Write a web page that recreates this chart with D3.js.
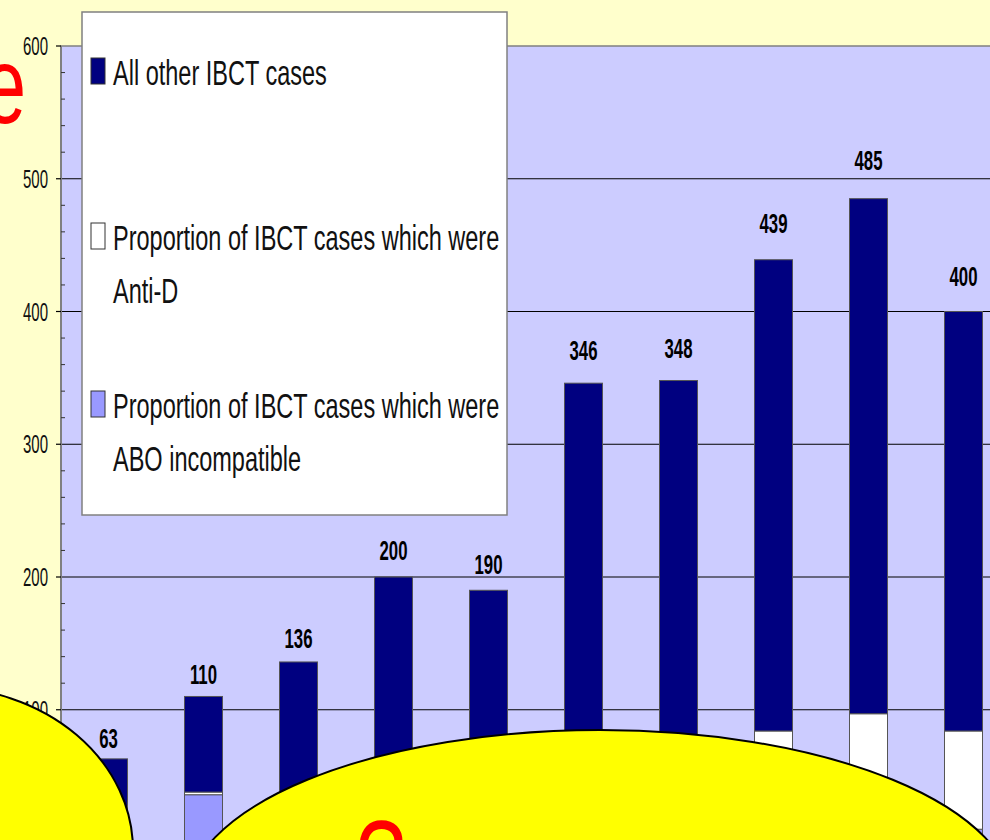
<!DOCTYPE html>
<html>
<head>
<meta charset="utf-8">
<script src="https://cdn.jsdelivr.net/npm/d3@7"></script>
<style>
  html, body { margin: 0; padding: 0; background: #ffffcc; overflow: hidden; }
  svg { display: block; }
  text { font-family: "Liberation Sans", Arial, sans-serif; }
</style>
</head>
<body>
<script>
// IBCT cases by reporting year (bottom parts hidden behind the shapes, estimated)
var years = ["1996/97", "1997/98", "1998/99", "1999/00", "2000/01", "2001/02", "2002/03", "2003", "2004", "2005"];
var totals = [63, 110, 136, 200, 190, 346, 348, 439, 485, 400];
var aboCases = [22, 36, 27, 30, 27, 40, 31, 22, 20, 10];
var antiDCases = [0, 2, 0, 0, 0, 0, 0, 62, 77, 74];
var yTicks = [100, 200, 300, 400, 500, 600];
var legendLabels = [
  ["All other IBCT cases"],
  ["Proportion of IBCT cases which were", "Anti-D"],
  ["Proportion of IBCT cases which were", "ABO incompatible"]
];

var width = 990, height = 840;
var margin = {left: 61, top: 46};
var plotRight = 1011, plotBottom = 842.5;

var svg = d3.select("body").append("svg").attr("width", width).attr("height", height);

svg.append("rect").attr("width", width).attr("height", height).attr("fill", "#ffffcc");

var x = d3.scaleBand().domain(years).range([margin.left, plotRight]).paddingInner(0.6).paddingOuter(0.3);
var y = d3.scaleLinear().domain([0, 600]).range([plotBottom, margin.top]);

// plot area
svg.append("rect")
  .attr("x", margin.left).attr("y", margin.top)
  .attr("width", plotRight - margin.left).attr("height", plotBottom - margin.top)
  .attr("fill", "#ccccff").attr("stroke", "#808080").attr("stroke-width", 1.5);

// gridlines
svg.append("g").selectAll("line").data(yTicks.filter(function(d){ return d < 600; }))
  .enter().append("line")
  .attr("x1", margin.left).attr("x2", plotRight)
  .attr("y1", function(d){ return y(d); }).attr("y2", function(d){ return y(d); })
  .attr("stroke", "#000").attr("stroke-width", 1.2);

// stacked data
var rows = years.map(function(yr, i){
  return {year: yr, abo: aboCases[i], antid: antiDCases[i], other: totals[i] - aboCases[i] - antiDCases[i], total: totals[i]};
});
var keys = ["abo", "antid", "other"];
var colors = {abo: "#9999ff", antid: "#ffffff", other: "#000080"};
var series = d3.stack().keys(keys)(rows);

svg.append("g").selectAll("g").data(series).enter().append("g")
  .attr("fill", function(d){ return colors[d.key]; })
  .selectAll("rect").data(function(d){ return d.filter(function(p){ return p[1] > p[0]; }); })
  .enter().append("rect")
  .attr("x", function(d){ return x(d.data.year); })
  .attr("width", x.bandwidth())
  .attr("y", function(d){ return y(d[1]); })
  .attr("height", function(d){ return y(d[0]) - y(d[1]); })
  .attr("stroke", "#555").attr("stroke-width", 1);

// value labels
var sx = 0.6;
svg.append("g").selectAll("text").data(rows).enter().append("text")
  .attr("transform", function(d){
    var ty = y(d.total) - (8 + 0.043 * d.total);
    return "translate(" + (x(d.year) + x.bandwidth() / 2) + "," + ty + ") scale(" + sx + ",1)";
  })
  .attr("text-anchor", "middle")
  .attr("font-size", 28).attr("font-weight", "bold").attr("fill", "#000")
  .text(function(d){ return d.total; });

// y axis
var axisG = svg.append("g");
axisG.append("line")
  .attr("x1", margin.left).attr("x2", margin.left)
  .attr("y1", margin.top).attr("y2", height)
  .attr("stroke", "#808080").attr("stroke-width", 2);
axisG.selectAll(".minor").data(d3.range(20, 600, 20).filter(function(d){ return d % 100 !== 0; }))
  .enter().append("line")
  .attr("x1", margin.left).attr("x2", margin.left + 4)
  .attr("y1", function(d){ return y(d); }).attr("y2", function(d){ return y(d); })
  .attr("stroke", "#333").attr("stroke-width", 1);
axisG.selectAll(".major").data(yTicks).enter().append("line")
  .attr("x1", margin.left - 5).attr("x2", margin.left)
  .attr("y1", function(d){ return y(d); }).attr("y2", function(d){ return y(d); })
  .attr("stroke", "#000").attr("stroke-width", 1.2);
axisG.selectAll("text").data(yTicks).enter().append("text")
  .attr("transform", function(d){ return "translate(48," + (y(d) + 9) + ") scale(" + sx + ",1)"; })
  .attr("text-anchor", "end").attr("font-size", 25).attr("fill", "#111")
  .text(function(d){ return d; });

// legend
var legend = svg.append("g");
legend.append("rect").attr("x", 82).attr("y", 12).attr("width", 425).attr("height", 503)
  .attr("fill", "#fff").attr("stroke", "#808080").attr("stroke-width", 1.5);
var legendTop = [58, 223, 391];
var legendKeys = ["other", "antid", "abo"];
legendKeys.forEach(function(k, i){
  legend.append("rect").attr("x", 91).attr("y", legendTop[i]).attr("width", 14).attr("height", 26)
    .attr("fill", colors[k]).attr("stroke", "#333").attr("stroke-width", 1);
  legendLabels[i].forEach(function(line, j){
    legend.append("text")
      .attr("transform", "translate(113," + (legendTop[i] + 27 + j * 53) + ") scale(0.672,1)")
      .attr("font-size", 35).attr("fill", "#111")
      .text(line);
  });
});

// overlay shapes from the slide
svg.append("ellipse").attr("cx", -60).attr("cy", 850).attr("rx", 193).attr("ry", 163)
  .attr("fill", "#ffff00").attr("stroke", "#000").attr("stroke-width", 2);
svg.append("ellipse").attr("cx", 600).attr("cy", 900).attr("rx", 414).attr("ry", 170)
  .attr("fill", "#ffff00").attr("stroke", "#000").attr("stroke-width", 2);

svg.append("text").attr("transform", "translate(26,123) scale(0.7,1)")
  .attr("text-anchor", "end").attr("font-size", 110).attr("fill", "#ff0000").text("e");
svg.append("text").attr("transform", "translate(381,898) scale(0.8,1)")
  .attr("text-anchor", "middle").attr("font-size", 112).attr("fill", "#ff0000").text("?");
</script>
</body>
</html>
